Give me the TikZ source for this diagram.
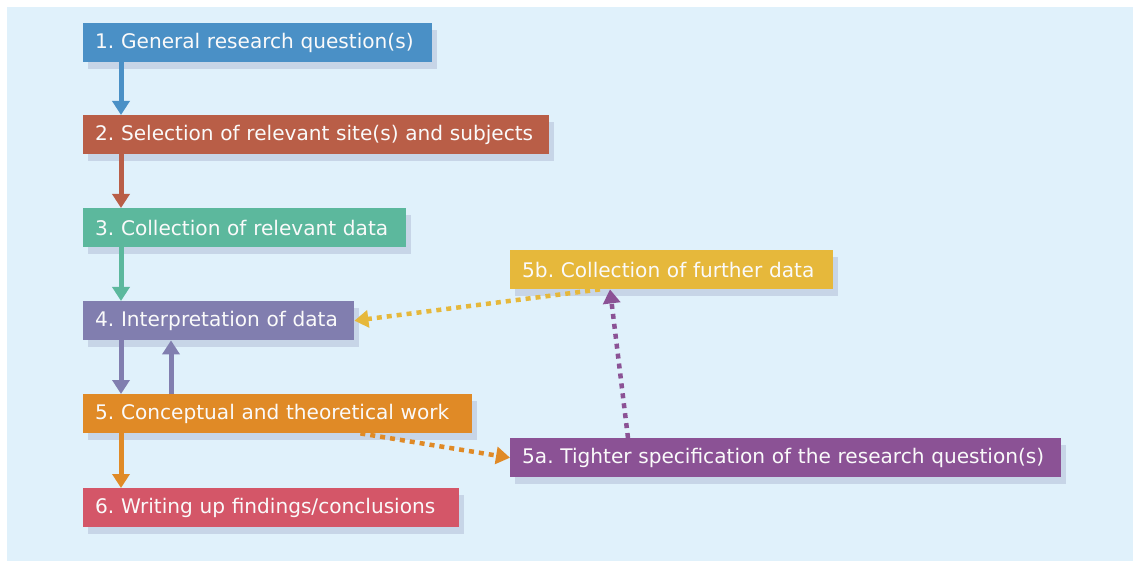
\documentclass[tikz,border=0pt]{standalone}
\usepackage{fontspec}
\setmainfont{DejaVu Sans}
\usetikzlibrary{arrows.meta,shadows}
\frenchspacing
\hyphenpenalty=10000

\definecolor{backblue}{HTML}{E0F1FB}
\definecolor{stepblue}{HTML}{4A90C6}
\definecolor{steprust}{HTML}{B95E47}
\definecolor{stepteal}{HTML}{5CB89D}
\definecolor{steplilac}{HTML}{817EAF}
\definecolor{steporange}{HTML}{E08A26}
\definecolor{stepred}{HTML}{D45668}
\definecolor{stepyellow}{HTML}{E6B83B}
\definecolor{steppurple}{HTML}{8B5295}

\tikzset{
    stagebox/.style={fill=#1, text=white!96!gray, anchor=north west,
        minimum height=39pt, inner xsep=12pt, inner ysep=0pt, align=left,
        font=\fontsize{20.1}{24}\selectfont,
        drop shadow={shadow xshift=5pt, shadow yshift=-7pt, opacity=0.2, fill=gray!80!blue}},
    flow/.style={line width=5pt, -{Triangle[width=17pt,length=14pt]}},
    loopflow/.style={line width=4.5pt, dash pattern=on 5pt off 5pt, -{Triangle[width=17pt,length=14pt]}}
}

\begin{document}
\begin{tikzpicture}[x=1pt, y=-1pt]
    % Draw the background
    \useasboundingbox (0,0) rectangle (1136,564);
    \fill[backblue] (7,7) rectangle (1133,561);

    % Draw the stages
    \node[stagebox=stepblue, text width=325pt] (gen) at (83,23) {1. General research question(s)};
    \node[stagebox=steprust, text width=442pt] (site) at (83,115) {2. Selection of relevant site(s) and subjects};
    \node[stagebox=stepteal, text width=299pt] (coll) at (83,208) {3. Collection of relevant data};
    \node[stagebox=steplilac, text width=247pt] (interp) at (83,301) {4. Interpretation of data};
    \node[stagebox=steporange, text width=365pt] (concept) at (83,394) {5. Conceptual and theoretical work};
    \node[stagebox=stepred, text width=352pt] (writing) at (83,488) {6. Writing up findings/conclusions};
    \node[stagebox=stepyellow, text width=299pt] (further) at (510,250) {5b. Collection of further data};
    \node[stagebox=steppurple, text width=527pt] (tighter) at (510,438) {5a. Tighter specification of the research question(s)};

    % Draw the main sequence
    \draw[flow, stepblue] ([xshift=38pt]gen.south west) -- ([xshift=38pt]site.north west);
    \draw[flow, steprust] ([xshift=38pt]site.south west) -- ([xshift=38pt]coll.north west);
    \draw[flow, stepteal] ([xshift=38pt]coll.south west) -- ([xshift=38pt]interp.north west);
    \draw[flow, steplilac] ([xshift=38pt]interp.south west) -- ([xshift=38pt]concept.north west);
    \draw[flow, steplilac] ([xshift=88pt]concept.north west) -- ([xshift=88pt]interp.south west);
    \draw[flow, steporange] ([xshift=38pt]concept.south west) -- ([xshift=38pt]writing.north west);

    % Draw the dotted loop
    \draw[loopflow, steporange] ([xshift=-112pt]concept.south east) -- (tighter.west);
    \draw[loopflow, steppurple] ([xshift=118pt]tighter.north west) -- ([xshift=100pt]further.south west);
    \draw[loopflow, stepyellow] ([xshift=90pt]further.south west) -- (interp.east);

\end{tikzpicture}
\end{document}
